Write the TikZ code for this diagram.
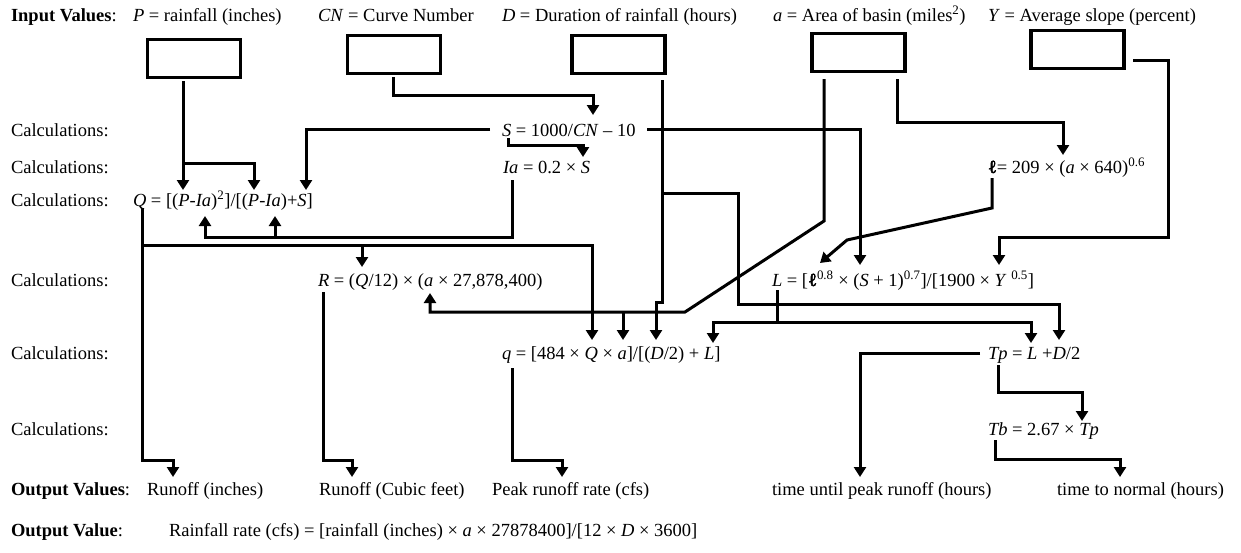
\documentclass[tikz,border=0pt]{standalone}
\usepackage{fontspec}
\setmainfont{Liberation Serif}
\newfontfamily\ellfont[FakeBold=2.5]{Liberation Serif}
\usetikzlibrary{arrows.meta}
\newcommand{\ellsym}{{\ellfont ℓ}}
\begin{document}
\begin{tikzpicture}[x=1pt,y=-1pt,
  txt/.style={anchor=base west,inner sep=0pt,outer sep=0pt,font=\fontsize{18.5}{22}\selectfont},
  inbox/.style={draw,line width=3.4pt,minimum width=93pt,minimum height=38pt,inner sep=0pt},
  conn/.style={line width=3pt},
  arr/.style={conn,-{Triangle[length=10pt,width=12pt]}},
]
\useasboundingbox (0,0) rectangle (1241,552);
% ---- input row
\node[txt] (lin) at (11,21) {\textbf{Input Values}:};
\node[txt] (inP) at (133,21) {\textit{P} = rainfall (inches)};
\node[txt] (inCN) at (318,21) {\textit{CN} = Curve Number};
\node[txt] (inD) at (502,21) {\textit{D} = Duration of rainfall (hours)};
\node[txt] (inA) at (773,21) {\textit{a} = Area of basin (miles\textsuperscript{2})};
\node[txt] (inY) at (988,21) {\textit{Y} = Average slope (percent)};
\node[inbox] (boxP) at (194,58.5) {};
\node[inbox] (boxCN) at (394,54.5) {};
\node[inbox] (boxD) at (618.5,54.5) {};
\node[inbox] (boxA) at (858.5,52.5) {};
\node[inbox] (boxY) at (1077.5,49.5) {};
% ---- calculation labels
\node[txt] (c1) at (11,136) {Calculations:};
\node[txt] (c2) at (11,173) {Calculations:};
\node[txt] (c3) at (11,206) {Calculations:};
\node[txt] (c4) at (11,286) {Calculations:};
\node[txt] (c5) at (11,359) {Calculations:};
\node[txt] (c6) at (11,435) {Calculations:};
% ---- formulas
\node[txt] (fS) at (502,136) {\textit{S} = 1000/\textit{CN} – 10};
\node[txt] (fIa) at (503,173) {\textit{Ia} = 0.2 × \textit{S}};
\node[txt] (fl) at (988,173) {\ellsym= 209 × (\textit{a} × 640)\textsuperscript{0.6}};
\node[txt] (fQ) at (133,206) {\textit{Q} = [(\textit{P}-\textit{Ia})\textsuperscript{2}]/[(\textit{P}-\textit{Ia})+\textit{S}]};
\node[txt] (fR) at (318,286) {\textit{R} = (\textit{Q}/12) × (\textit{a} × 27,878,400)};
\node[txt] (fL) at (772,286) {\textit{L} = [\ellsym\textsuperscript{0.8} × (\textit{S} + 1)\textsuperscript{0.7}]/[1900 × \textit{Y} \textsuperscript{0.5}]};
\node[txt] (fq) at (502,359) {\textit{q} = [484 × \textit{Q} × \textit{a}]/[(\textit{D}/2) + \textit{L}]};
\node[txt] (fTp) at (988,359) {\textit{Tp} = \textit{L} +\textit{D}/2};
\node[txt] (fTb) at (988,435) {\textit{Tb} = 2.67 × \textit{Tp}};
% ---- outputs
\node[txt] (lout) at (11,495) {\textbf{Output Values}:};
\node[txt] (o1) at (147,495) {Runoff (inches)};
\node[txt] (o2) at (319,495) {Runoff (Cubic feet)};
\node[txt] (o3) at (492,495) {Peak runoff rate (cfs)};
\node[txt] (o4) at (772,495) {time until peak runoff (hours)};
\node[txt] (o5) at (1057,495) {time to normal (hours)};
\node[txt] (lout2) at (11,536) {\textbf{Output Value}:};
\node[txt] (o6) at (169,536) {Rainfall rate (cfs) = [rainfall (inches) × \textit{a} × 27878400]/[12 × \textit{D} × 3600]};
% ---- connectors
% P
\coordinate (pS) at (183,81);
\coordinate (qP1) at (183,190);
\coordinate (qP2) at (254,190);
\draw[arr] (pS) -- (qP1);
\draw[arr] (183,163) -- (254,163) -- (qP2);
% CN
\coordinate (cnS) at (393,77);
\coordinate (sCN) at (593,115);
\draw[arr] (cnS) -- (393,95) -- (593,95) -- (sCN);
% S left
\coordinate (sL) at (490,129);
\coordinate (qS) at (306,190);
\draw[arr] (sL) -- (306,129) -- (qS);
% S right
\coordinate (sR) at (647,129);
\coordinate (LS) at (860,265);
\draw[arr] (sR) -- (860,129) -- (LS);
% S -> Ia
\coordinate (sB) at (508,138);
\coordinate (iaS) at (583,157);
\draw[arr] (sB) -- (508,145) -- (583,145) -- (iaS);
% Ia -> Q
\coordinate (iaB) at (512,180);
\coordinate (qIa1) at (205,216);
\coordinate (qIa2) at (275,216);
\draw[arr] (iaB) -- (512,237) -- (205,237) -- (qIa1);
\draw[arr] (275,237) -- (qIa2);
% D
\coordinate (dS) at (662,80);
\coordinate (qD) at (656,340);
\coordinate (tpD) at (1059,340);
\draw[arr] (dS) -- (662,302) -- (656,302) -- (qD);
\draw[arr] (662,193) -- (738,193) -- (738,304) -- (1059,304) -- (tpD);
% a
\coordinate (aS1) at (824,79);
\coordinate (aS2) at (897,79);
\coordinate (Ra) at (430,293);
\coordinate (qa) at (623,340);
\coordinate (la) at (1063,155);
\draw[arr] (aS1) -- (824,221) -- (685,312) -- (430,312) -- (Ra);
\draw[arr] (623,312) -- (qa);
\draw[arr] (aS2) -- (897,122) -- (1063,122) -- (la);
% Y
\coordinate (yE) at (1133,60);
\coordinate (LY) at (999,265);
\draw[arr] (yE) -- (1168,60) -- (1168,237) -- (999,237) -- (LY);
% l -> L
\coordinate (lB) at (992,178);
\coordinate (Ll) at (820,263);
\draw[arr] (lB) -- (992,208) -- (847,240) -- (Ll);
% Q
\coordinate (qB) at (142,208);
\coordinate (RQ) at (362,267);
\coordinate (qQ) at (592,340);
\coordinate (o1t) at (173,477);
\draw[arr] (qB) -- (142,460) -- (173,460) -- (o1t);
\draw[arr] (142,245) -- (592,245) -- (qQ);
\draw[arr] (362,245) -- (RQ);
% R
\coordinate (RB) at (323,292);
\coordinate (o2t) at (352,477);
\draw[arr] (RB) -- (323,460) -- (352,460) -- (o2t);
% L
\coordinate (LB) at (777,290);
\coordinate (qL) at (713,343);
\coordinate (tpL) at (1031,343);
\draw[conn] (LB) -- (777,322);
\draw[arr] (777,322) -- (713,322) -- (qL);
\draw[arr] (777,322) -- (1031,322) -- (tpL);
% q
\coordinate (qB2) at (512,368);
\coordinate (o3t) at (562,477);
\draw[arr] (qB2) -- (512,460) -- (562,460) -- (o3t);
% Tp
\coordinate (tpW) at (980,353);
\coordinate (o4t) at (860,477);
\draw[arr] (tpW) -- (860,353) -- (o4t);
\coordinate (tpB) at (998,365);
\coordinate (tbT) at (1082,421);
\draw[arr] (tpB) -- (998,392) -- (1082,392) -- (tbT);
% Tb
\coordinate (tbB) at (995,440);
\coordinate (o5t) at (1120,477);
\draw[arr] (tbB) -- (995,459) -- (1120,459) -- (o5t);
\end{tikzpicture}
\end{document}
